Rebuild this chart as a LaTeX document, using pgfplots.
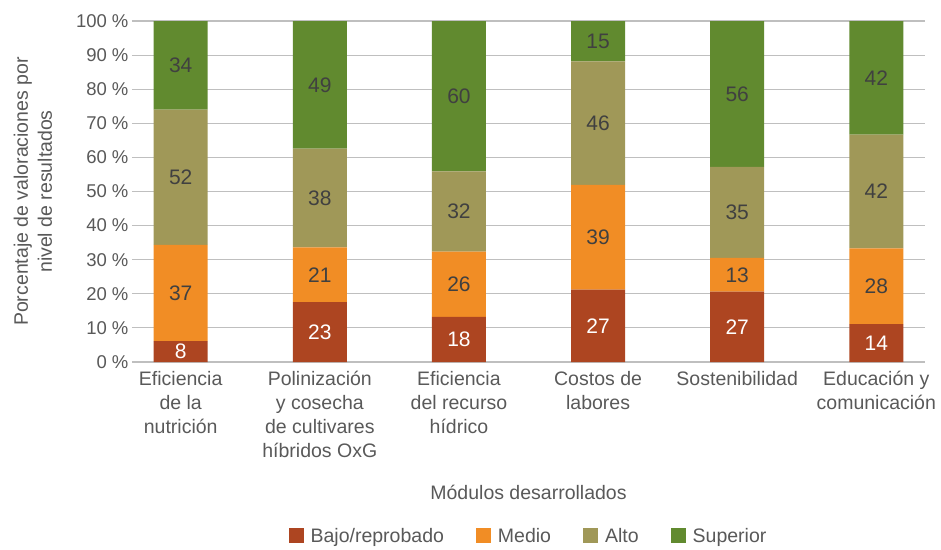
\documentclass[border=0pt]{standalone}
\usepackage{pgfplots}
\pgfplotsset{compat=1.18}
\usepackage{fontspec}
\setmainfont{Liberation Sans}
\definecolor{cBajo}{HTML}{AD4521}
\definecolor{cMedio}{HTML}{F18D25}
\definecolor{cAlto}{HTML}{A09858}
\definecolor{cSup}{HTML}{618A2F}
\definecolor{txtgray}{HTML}{595959}
\definecolor{valgray}{HTML}{404040}
\definecolor{gridgray}{HTML}{BFBFBF}
\begin{document}
\begin{tikzpicture}
\begin{axis}[name=ax, at={(0,0)}, anchor=south west,
  scale only axis, width=793pt, height=341pt,
  ybar stacked, bar width=54pt,
  xmin=-0.35, xmax=5.35, ymin=0, ymax=100,
  xtick={0,1,2,3,4,5},
  xticklabels={{Eficiencia\\de la\\nutrición},{Polinización\\y cosecha\\de cultivares\\híbridos OxG},{Eficiencia\\del recurso\\hídrico},{Costos de\\labores},{Sostenibilidad},{Educación y\\comunicación}},
  xticklabel style={align=center, font=\fontsize{19.5}{24}\selectfont, text=txtgray, anchor=north, yshift=-6pt},
  ytick={0,10,20,30,40,50,60,70,80,90,100},
  yticklabels={0 \%,10 \%,20 \%,30 \%,40 \%,50 \%,60 \%,70 \%,80 \%,90 \%,100 \%},
  yticklabel style={font=\fontsize{18.5}{22}\selectfont, text=txtgray},
  major tick length=0pt, tick style={draw=none},
  axis line style={draw=none},
  ymajorgrids, grid style={gridgray, line width=1.1pt},
  xlabel={Módulos desarrollados},
  xlabel style={at={(axis description cs:0.5,-0.381)}, anchor=center, font=\fontsize{19.5}{24}\selectfont, text=txtgray},
  ylabel={Porcentaje de valoraciones por\\nivel de resultados},
  ylabel style={align=center, at={(axis description cs:-0.125,0.5)}, anchor=center, font=\fontsize{19.5}{24}\selectfont, text=txtgray},
  legend columns=4,
  legend style={draw=none, at={(axis description cs:0.5,-0.51)}, anchor=center, font=\fontsize{19.5}{24}\selectfont, text=txtgray,
    /tikz/every odd column/.append style={column sep=5pt},
    /tikz/every even column/.append style={column sep=30pt}},
  legend image code/.code={\fill[#1] (0pt,-7.5pt) rectangle (15pt,7.5pt);},
  point meta=explicit symbolic,
  nodes near coords,
  every node near coord/.append style={anchor=center, font=\fontsize{21}{24}\selectfont},
]
\addplot[fill=cBajo, draw=none, every node near coord/.append style={text=white}] coordinates {
  (0,6.107) [8] (1,17.557) [23] (2,13.235) [18] (3,21.260) [27] (4,20.611) [27] (5,11.111) [14]};
\addlegendentry{Bajo/reprobado}
\addplot[fill=cMedio, draw=none, every node near coord/.append style={text=valgray}] coordinates {
  (0,28.244) [37] (1,16.031) [21] (2,19.118) [26] (3,30.709) [39] (4,9.924) [13] (5,22.222) [28]};
\addlegendentry{Medio}
\addplot[fill=cAlto, draw=none, every node near coord/.append style={text=valgray}] coordinates {
  (0,39.695) [52] (1,29.008) [38] (2,23.529) [32] (3,36.220) [46] (4,26.718) [35] (5,33.333) [42]};
\addlegendentry{Alto}
\addplot[fill=cSup, draw=none, every node near coord/.append style={text=valgray}] coordinates {
  (0,25.953) [34] (1,37.403) [49] (2,44.117) [60] (3,11.810) [15] (4,42.746) [56] (5,33.333) [42]};
\addlegendentry{Superior}
\end{axis}
\path (ax.south west) ++(-132pt,-187pt) rectangle ++(941pt,549pt);
\end{tikzpicture}
\end{document}
